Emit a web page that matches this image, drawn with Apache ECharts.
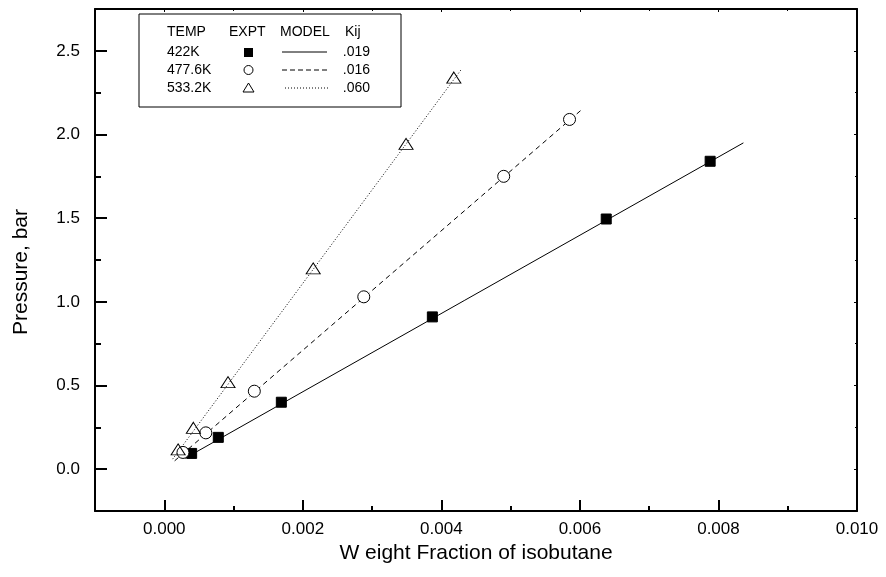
<!DOCTYPE html>
<html>
<head>
<meta charset="utf-8">
<title>Pressure vs weight fraction of isobutane</title>
<script src="https://cdn.jsdelivr.net/npm/echarts@6/dist/echarts.min.js"></script>
<style>
  html, body { margin: 0; padding: 0; background: #fff; }
  #chart { width: 886px; height: 577px; }
</style>
</head>
<body>
<div id="chart"></div>
<script>
// Experimental points: [weight fraction, pressure (bar)]
const expt422 = [[0.000395, 0.094], [0.00078, 0.19], [0.00169, 0.40], [0.00387, 0.91], [0.00638, 1.495], [0.00788, 1.84]];
const expt477 = [[0.00027, 0.10], [0.0006, 0.217], [0.0013, 0.466], [0.00288, 1.03], [0.0049, 1.75], [0.00585, 2.09]];
const expt533 = [[0.0002, 0.118], [0.00042, 0.247], [0.00092, 0.52], [0.00215, 1.20], [0.00349, 1.944], [0.00418, 2.34]];

// Model curves (end points of each fitted line)
const model422 = [[0.00030, 0.065], [0.00836, 1.95]];
const model477 = [[0.00015, 0.05], [0.00603, 2.15]];
const model533 = [[0.00012, 0.06], [0.00429, 2.39]];

// Axis ticks
const xMajor = [0, 0.002, 0.004, 0.006, 0.008, 0.010];
const xMinor = [0.001, 0.003, 0.005, 0.007, 0.009];
const yMajor = [0, 0.5, 1.0, 1.5, 2.0, 2.5];
const yMinor = [0.25, 0.75, 1.25, 1.75, 2.25];

// Legend table rows
const legendTemps = ['422K', '477.6K', '533.2K'];
const legendKij = ['.019', '.016', '.060'];

const FONT = '"Liberation Sans", Arial, Helvetica, sans-serif';
const X_MIN = -0.001, X_MAX = 0.010, Y_MIN = -0.25, Y_MAX = 2.75;

function xAxisDef(position, ticks, len, tickWidth, showLine, showLabel) {
  return {
    type: 'value', position: position, min: X_MIN, max: X_MAX,
    axisLine: { show: showLine, onZero: false, lineStyle: { color: '#000', width: 2 } },
    axisTick: { show: true, inside: true, length: len, customValues: ticks, lineStyle: { color: '#000', width: tickWidth } },
    axisLabel: showLabel ? {
      show: true, customValues: ticks, margin: 10, color: '#000', fontSize: 17, fontFamily: FONT,
      formatter: v => v.toFixed(3)
    } : { show: false },
    splitLine: { show: false }
  };
}
function yAxisDef(position, ticks, len, tickWidth, showLine, showLabel) {
  return {
    type: 'value', position: position, min: Y_MIN, max: Y_MAX,
    axisLine: { show: showLine, onZero: false, lineStyle: { color: '#000', width: 2 } },
    axisTick: { show: true, inside: true, length: len, customValues: ticks, lineStyle: { color: '#000', width: tickWidth } },
    axisLabel: showLabel ? {
      show: true, customValues: ticks, margin: 15, color: '#000', fontSize: 17, fontFamily: FONT,
      formatter: v => v.toFixed(1)
    } : { show: false },
    splitLine: { show: false }
  };
}

const xAxes = [
  xAxisDef('bottom', xMajor, 11, 2, true, true),
  xAxisDef('bottom', xMinor, 5, 2, false, false),
  xAxisDef('top', xMajor, 3, 1, true, false),
  xAxisDef('top', xMinor, 2, 1, false, false)
];
xAxes[0].name = 'W eight Fraction of isobutane';
xAxes[0].nameLocation = 'middle';
xAxes[0].nameGap = 28;
xAxes[0].nameTextStyle = { color: '#000', fontSize: 21, fontFamily: FONT };

const yAxes = [
  yAxisDef('left', yMajor, 12, 2, true, true),
  yAxisDef('left', yMinor, 6, 2, false, false),
  yAxisDef('right', yMajor, 3, 1, true, false),
  yAxisDef('right', yMinor, 2, 1, false, false)
];

function modelSeries(data, dash) {
  return {
    type: 'line', data: data, showSymbol: false, silent: true, z: 2,
    lineStyle: { color: '#000', width: 1, type: dash }, animation: false
  };
}
function exptSeries(data, symbol, size, fill) {
  return {
    type: 'scatter', data: data, symbol: symbol, symbolSize: size, z: 3,
    itemStyle: { color: fill, borderColor: '#000', borderWidth: 1, opacity: 1 }, animation: false
  };
}

// Legend table drawn as graphic elements
const LX = 139, LY = 14, LW = 262, LH = 93;
const rowY = [52, 70, 88];
const LFONT = '14px ' + FONT;
const legendGraphics = [
  { type: 'rect', shape: { x: LX, y: LY, width: LW, height: LH }, style: { fill: '#fff', stroke: '#000', lineWidth: 1 }, z: 10 }
];
const header = [['TEMP', 167], ['EXPT', 229], ['MODEL', 280], ['Kij', 345]];
header.forEach(([t, x]) => legendGraphics.push({
  type: 'text', x: x, y: 32, z: 11,
  style: { text: t, fill: '#000', font: LFONT, verticalAlign: 'middle', align: 'left' }
}));
legendTemps.forEach((t, i) => legendGraphics.push({
  type: 'text', x: 167, y: rowY[i], z: 11,
  style: { text: t, fill: '#000', font: LFONT, verticalAlign: 'middle', align: 'left' }
}));
legendKij.forEach((t, i) => legendGraphics.push({
  type: 'text', x: 370, y: rowY[i], z: 11,
  style: { text: t, fill: '#000', font: LFONT, verticalAlign: 'middle', align: 'right' }
}));
legendGraphics.push(
  { type: 'rect', shape: { x: 244, y: rowY[0] - 4, width: 9, height: 9 }, style: { fill: '#000' }, z: 11 },
  { type: 'circle', shape: { cx: 248.5, cy: rowY[1], r: 4.5 }, style: { fill: '#fff', stroke: '#000', lineWidth: 1 }, z: 11 },
  { type: 'polygon', shape: { points: [[248.5, rowY[2] - 5], [254, rowY[2] + 4], [243, rowY[2] + 4]] }, style: { fill: 'none', stroke: '#000', lineWidth: 1 }, z: 11 },
  { type: 'line', shape: { x1: 282, y1: rowY[0], x2: 327, y2: rowY[0] }, style: { stroke: '#000', lineWidth: 1 }, z: 11 },
  { type: 'line', shape: { x1: 282, y1: rowY[1], x2: 327, y2: rowY[1] }, style: { stroke: '#000', lineWidth: 1, lineDash: [5, 3] }, z: 11 },
  { type: 'line', shape: { x1: 285, y1: rowY[2], x2: 330, y2: rowY[2] }, style: { stroke: '#000', lineWidth: 1, lineDash: [1, 2] }, z: 11 }
);
// Vertical axis title
legendGraphics.push({
  type: 'text', x: 21, y: 272, rotation: Math.PI / 2, z: 11,
  style: { text: 'Pressure, bar', fill: '#000', font: '21px ' + FONT, align: 'center', verticalAlign: 'middle' }
});

const chart = echarts.init(document.getElementById('chart'), null, { renderer: 'canvas' });
chart.setOption({
  backgroundColor: '#fff',
  animation: false,
  grid: { left: 95, right: 29, top: 9, bottom: 66, containLabel: false },
  xAxis: xAxes,
  yAxis: yAxes,
  series: [
    modelSeries(model422, 'solid'),
    modelSeries(model477, [5, 4]),
    modelSeries(model533, [1, 2]),
    exptSeries(expt422, 'rect', 10, '#000'),
    exptSeries(expt477, 'circle', 12, '#fff'),
    exptSeries(expt533, 'triangle', [14, 11], 'rgba(0,0,0,0)')
  ],
  graphic: legendGraphics
});
</script>
</body>
</html>
